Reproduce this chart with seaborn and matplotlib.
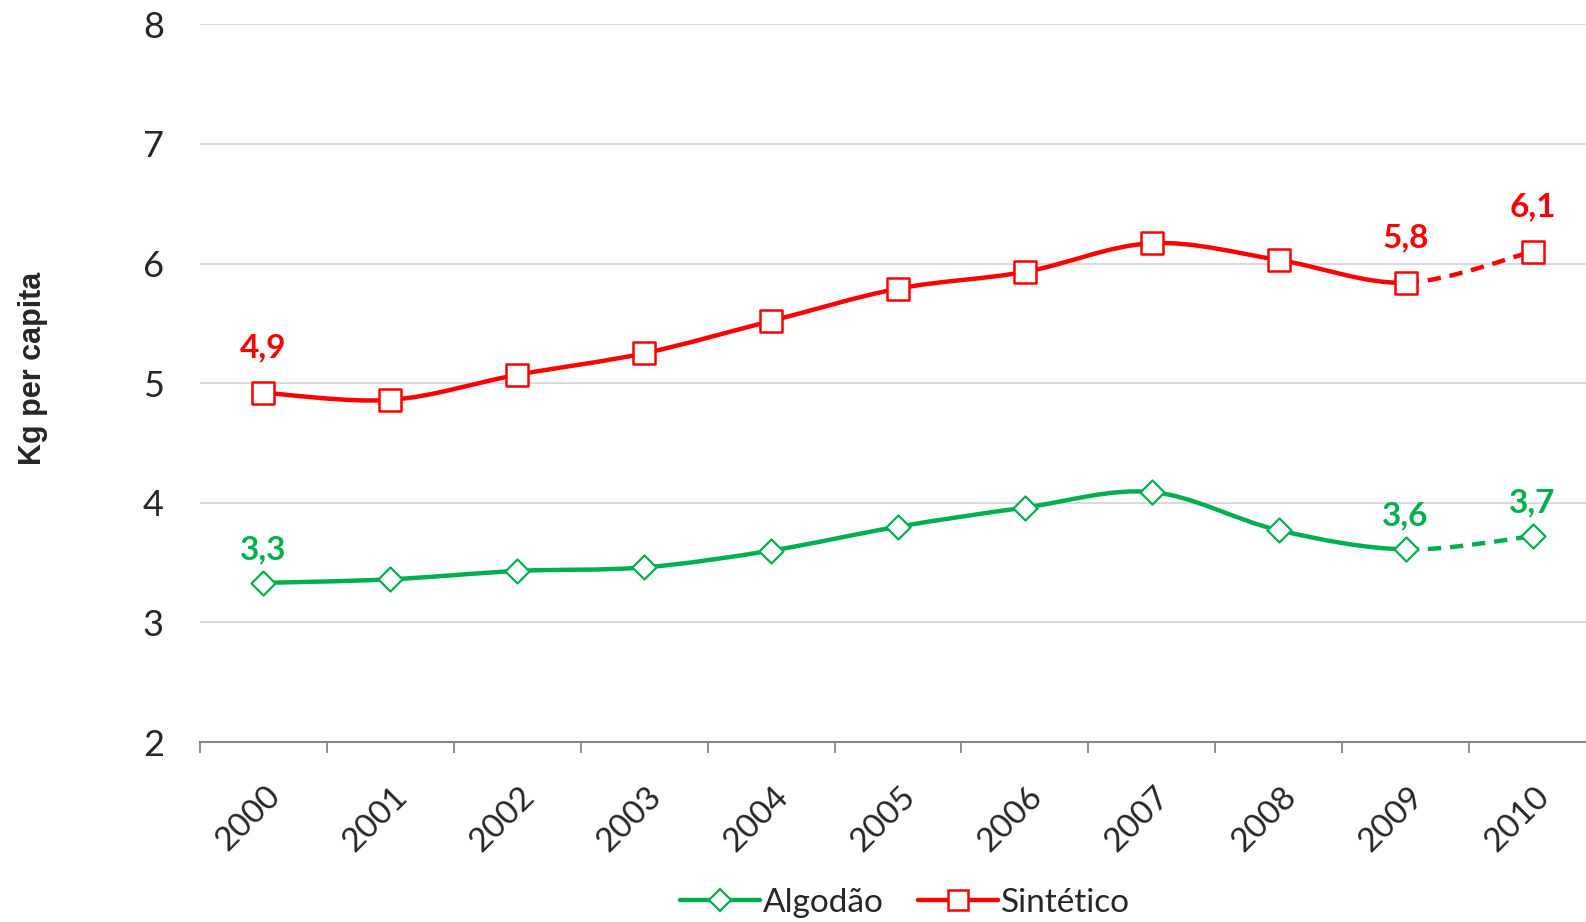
import numpy as np
import pandas as pd
import matplotlib
matplotlib.use('Agg')
import matplotlib.pyplot as plt
import matplotlib.transforms as mtransforms
from matplotlib.path import Path
from matplotlib.patches import PathPatch
from matplotlib.lines import Line2D
import seaborn as sns

anos = ['2000', '2001', '2002', '2003', '2004', '2005', '2006', '2007', '2008', '2009', '2010']
sintetico = [4.92, 4.86, 5.07, 5.25, 5.52, 5.79, 5.93, 6.17, 6.03, 5.84, 6.10]
algodao = [3.33, 3.36, 3.43, 3.46, 3.60, 3.80, 3.96, 4.09, 3.77, 3.61, 3.72]

# rotulos mostrados no grafico: (indice, texto)
rot_sintetico = [(0, '4,9'), (9, '5,8'), (10, '6,1')]
rot_algodao = [(0, '3,3'), (9, '3,6'), (10, '3,7')]

VERMELHO = '#FF0000'
VERDE = '#00B050'

df = pd.DataFrame({'pos': np.arange(len(anos)), 'ano': anos,
                   'Sintético': sintetico, 'Algodão': algodao})

sns.set_style('white')
plt.rcParams['font.family'] = ['Lato', 'DejaVu Sans']

fig = plt.figure(figsize=(15.86, 9.22), dpi=100)
ax = fig.add_axes([200 / 1586, 180 / 922, 1396 / 1586, 717.7 / 922])


def curva_suave(xs, ys, ini, fim):
    # curva tipo "suavizada" do Excel (bezier com pontos de controle catmull-rom)
    pts = list(zip(xs, ys))
    n = len(pts)
    verts = [pts[ini]]
    codes = [Path.MOVETO]
    for i in range(ini, fim):
        p0 = pts[max(i - 1, 0)]
        p1 = pts[i]
        p2 = pts[i + 1]
        p3 = pts[min(i + 2, n - 1)]
        c1 = (p1[0] + (p2[0] - p0[0]) / 6, p1[1] + (p2[1] - p0[1]) / 6)
        c2 = (p2[0] - (p3[0] - p1[0]) / 6, p2[1] - (p3[1] - p1[1]) / 6)
        verts += [c1, c2, p2]
        codes += [Path.CURVE4] * 3
    return Path(verts, codes)


for serie, cor in [('Algodão', VERDE), ('Sintético', VERMELHO)]:
    xs = df['pos'].tolist()
    ys = df[serie].tolist()
    ax.add_patch(PathPatch(curva_suave(xs, ys, 0, 9), fill=False, edgecolor=cor,
                           lw=3.2, capstyle='round', joinstyle='round', zorder=3))
    ax.add_patch(PathPatch(curva_suave(xs, ys, 9, 10), fill=False, edgecolor=cor,
                           lw=3.2, linestyle=(0, (3, 2)), zorder=3))

sns.scatterplot(data=df, x='pos', y='Algodão', marker='D', s=150, facecolor='white',
                edgecolor=VERDE, linewidth=1.6, zorder=4, ax=ax)
sns.scatterplot(data=df, x='pos', y='Sintético', marker='s', s=260, facecolor='white',
                edgecolor=VERMELHO, linewidth=1.8, zorder=4, ax=ax)

for i, txt in rot_sintetico:
    ax.annotate(txt, (i, sintetico[i]), xytext=(0, 32), textcoords='offset points',
                ha='center', va='center', color=VERMELHO, fontsize=24, fontweight='bold')
for i, txt in rot_algodao:
    ax.annotate(txt, (i, algodao[i]), xytext=(0, 24), textcoords='offset points',
                ha='center', va='center', color=VERDE, fontsize=24, fontweight='bold')

ax.set_xlim(-0.5, 10.5)
ax.set_ylim(2, 8)
ax.set_yticks(range(2, 9))
ax.set_yticklabels([str(v) for v in range(2, 9)], fontsize=26)
ax.yaxis.grid(True, color='#D9D9D9', lw=1.4)
ax.set_axisbelow(True)

ax.set_xticks(np.arange(len(anos)))
ax.set_xticklabels(anos, fontsize=24, rotation=45, ha='right', rotation_mode='anchor')
ax.set_xticks(np.arange(-0.5, 10.6, 1), minor=True)
ax.tick_params(axis='x', which='major', length=0, pad=28, bottom=True)
ax.tick_params(axis='x', which='minor', length=8, width=1.3, color='#868686',
               direction='out', bottom=True)
ax.tick_params(axis='y', length=0, pad=26)
desloc = mtransforms.ScaledTranslation(2 / 100, 0, fig.dpi_scale_trans)
for lbl in ax.get_xticklabels():
    lbl.set_transform(lbl.get_transform() + desloc)

for lado in ['left', 'right', 'top']:
    ax.spines[lado].set_visible(False)
ax.spines['bottom'].set_color('#868686')
ax.spines['bottom'].set_linewidth(1.5)

ax.set_xlabel('')
ax.set_ylabel('Kg per capita', fontsize=22, fontweight='bold',
              family=['Liberation Sans', 'DejaVu Sans'], labelpad=0)
ax.yaxis.set_label_coords(-152 / 1396, 0.52)

handles = [
    Line2D([], [], color=VERDE, lw=3.2, marker='D', markersize=11, markerfacecolor='white',
           markeredgecolor=VERDE, markeredgewidth=1.6),
    Line2D([], [], color=VERMELHO, lw=3.2, marker='s', markersize=15, markerfacecolor='white',
           markeredgecolor=VERMELHO, markeredgewidth=1.8),
]
fig.legend(handles, ['Algodão', 'Sintético'], loc='center', bbox_to_anchor=(905 / 1586, 1 - 903 / 922),
           ncol=2, frameon=False, fontsize=24, handlelength=2.4, handletextpad=0.1,
           columnspacing=1.0)

fig.savefig('out.png', dpi=100)
